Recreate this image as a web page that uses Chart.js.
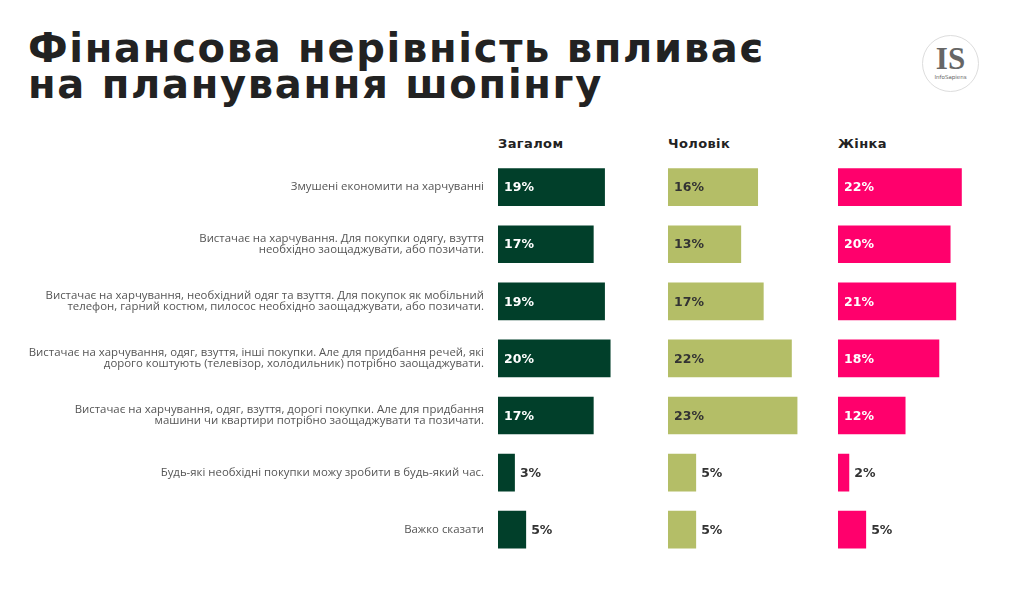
<!DOCTYPE html>
<html>
<head>
<meta charset="utf-8">
<script src="https://cdn.jsdelivr.net/npm/chart.js@4/dist/chart.umd.min.js"></script>
<style>
  body { margin: 0; background: #fff; width: 1024px; height: 589px; position: relative; overflow: hidden; }
  canvas { position: absolute; top: 0; }
  #title { position: absolute; left: 28px; top: 30px; margin: 0; font: bold 40px/36px "DejaVu Sans", sans-serif; letter-spacing: 1.7px; color: #222; }
  .head { position: absolute; top: 137px; font: bold 13px/13px "DejaVu Sans", sans-serif; letter-spacing: 0.4px; color: #222; }
  #logo { position: absolute; left: 922px; top: 35px; width: 57px; height: 57px; border: 1.5px solid #ddd; border-radius: 50%; box-sizing: border-box; text-align: center; color: #666; }
  #logo .is { font: bold 31px/31px "Liberation Serif", serif; margin-top: 7px; }
  #logo .name { font: 5.5px/6px "DejaVu Sans", sans-serif; }
</style>
</head>
<body>
<h1 id="title">Фінансова нерівність впливає<br>на планування шопінгу</h1>
<div class="head" style="left:498px">Загалом</div>
<div class="head" style="left:668px">Чоловік</div>
<div class="head" style="left:838px">Жінка</div>
<div id="logo"><div class="is">IS</div><div class="name">InfoSapiens</div></div>

<canvas id="chartTotal" width="664" height="589" style="left:0"></canvas>
<canvas id="chartMen" width="166" height="589" style="left:668px"></canvas>
<canvas id="chartWomen" width="166" height="589" style="left:838px"></canvas>

<script>
const categories = [
  "Змушені економити на харчуванні",
  ["Вистачає на харчування. Для покупки одягу, взуття", "необхідно заощаджувати, або позичати."],
  ["Вистачає на харчування, необхідний одяг та взуття. Для покупок як мобільний", "телефон, гарний костюм, пилосос необхідно заощаджувати, або позичати."],
  ["Вистачає на харчування, одяг, взуття, інші покупки. Але для придбання речей, які", "дорого коштують (телевізор, холодильник) потрібно заощаджувати."],
  ["Вистачає на харчування, одяг, взуття, дорогі покупки. Але для придбання", "машини чи квартири потрібно заощаджувати та позичати."],
  "Будь-які необхідні покупки можу зробити в будь-який час.",
  "Важко сказати"
];
const totalValues = [19, 17, 19, 20, 17, 3, 5];
const menValues = [16, 13, 17, 22, 23, 5, 5];
const womenValues = [22, 20, 21, 18, 12, 2, 5];

// value text inside big bars, to the right of small ones
const valueLabels = {
  id: 'valueLabels',
  afterDatasetsDraw(chart, args, opts) {
    const ctx = chart.ctx;
    const meta = chart.getDatasetMeta(0);
    const data = chart.data.datasets[0].data;
    ctx.save();
    ctx.font = 'bold 12.5px "DejaVu Sans"';
    ctx.textBaseline = 'middle';
    meta.data.forEach((bar, i) => {
      const v = data[i];
      const inside = v >= 10;
      ctx.fillStyle = inside ? opts.insideColor : '#333';
      const x = inside ? bar.base + 6 : bar.x + 5;
      ctx.fillText(v + '%', x, bar.y + 1);
    });
    ctx.restore();
  }
};

function makeChart(id, values, color, insideColor, showCategories) {
  const yAxis = {
    display: showCategories,
    grid: { display: false, drawTicks: false },
    border: { display: false },
    ticks: {
      padding: 14,
      color: '#555',
      font: { family: '"Open Sans"', size: 11.4, lineHeight: 1.0 }
    }
  };
  if (showCategories) {
    yAxis.afterFit = scale => { scale.width = 498; };
  }
  return new Chart(id, {
    type: 'bar',
    data: {
      labels: categories,
      datasets: [{
        data: values,
        backgroundColor: color,
        barPercentage: 0.66,
        categoryPercentage: 1
      }]
    },
    options: {
      indexAxis: 'y',
      responsive: false,
      animation: false,
      layout: { padding: { top: 158.6, bottom: 30.8, left: 0, right: 0 } },
      plugins: {
        legend: { display: false },
        tooltip: { enabled: false },
        valueLabels: { insideColor: insideColor }
      },
      scales: {
        x: { display: false, min: 0, max: 29.5 },
        y: yAxis
      }
    },
    plugins: [valueLabels]
  });
}

makeChart('chartTotal', totalValues, '#013f2a', '#ffffff', true);
makeChart('chartMen', menValues, '#b4be67', '#333333', false);
makeChart('chartWomen', womenValues, '#ff006c', '#ffffff', false);
</script>
</body>
</html>
